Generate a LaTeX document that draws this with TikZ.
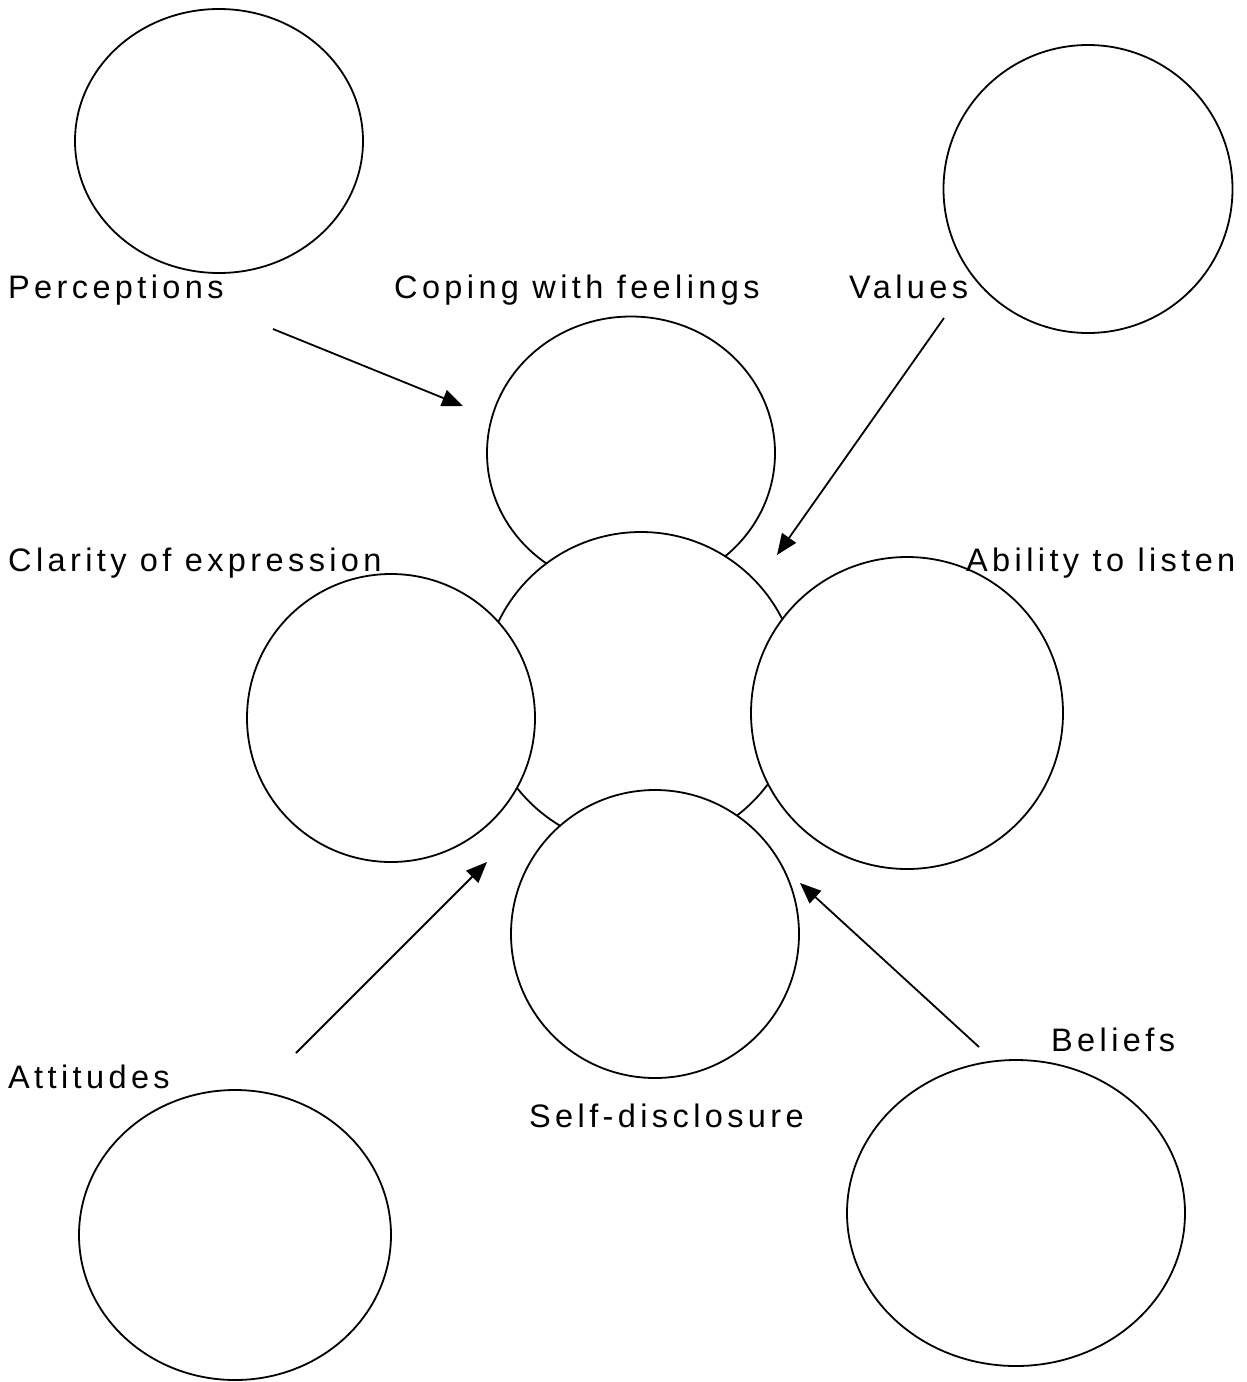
\documentclass[tikz,border=0pt]{standalone}
\usepackage{fontspec}
\setmainfont{Liberation Sans}[LetterSpace=13.5]
\usetikzlibrary{shapes.geometric,arrows.meta}
\tikzset{
  bubble/.style={draw, ellipse, line width=1.8pt, fill=white, inner sep=0pt, outer sep=0pt},
  lbl/.style={anchor=base west, inner sep=0pt, font=\fontsize{32.5}{38}\selectfont},
  link/.style={line width=1.8pt, -{Triangle[length=21pt,width=17pt]}}
}
\begin{document}
\begin{tikzpicture}[x=1pt,y=-1pt]
\useasboundingbox (0,0) rectangle (1247,1382);
% outer bubbles
\node[bubble, minimum width=288pt, minimum height=264pt] (perc) at (219,141) {};
\node[bubble, minimum width=289pt, minimum height=288pt] (vals) at (1088,189) {};
\node[bubble, minimum width=312pt, minimum height=290pt] (att) at (235,1235) {};
\node[bubble, minimum width=338pt, minimum height=306pt] (bel) at (1016,1213) {};
% central cluster, back to front
\node[bubble, minimum width=288pt, minimum height=273pt] (cope) at (631,453) {};
\node[bubble, minimum width=316pt, minimum height=316pt] (core) at (641,690) {};
\node[bubble, minimum width=288pt, minimum height=288pt] (clar) at (391,718) {};
\node[bubble, minimum width=312pt, minimum height=312pt] (abil) at (907,713) {};
\node[bubble, minimum width=288pt, minimum height=288pt] (self) at (655,934) {};
% labels
\node[lbl] (tperc) at (8,298) {Perceptions};
\node[lbl] (tcope) at (394,298) {Coping with feelings};
\node[lbl] (tvals) at (849,298) {Values};
\node[lbl] (tclar) at (8,571) {Clarity of expression};
\node[lbl] (tabil) at (966,571) {Ability to listen};
\node[lbl] (tatt) at (8,1088) {Attitudes};
\node[lbl] (tbel) at (1051,1051) {Beliefs};
\node[lbl] (tself) at (529,1127) {Self-disclosure};
% arrows
\coordinate (pa) at (273,329); \coordinate (pb) at (463,406);
\coordinate (va) at (944,318); \coordinate (vb) at (777,555);
\coordinate (aa) at (296,1053); \coordinate (ab) at (487,862);
\coordinate (ba) at (979,1047); \coordinate (bb) at (800,883);
\draw[link] (pa) -- (pb);
\draw[link] (va) -- (vb);
\draw[link] (aa) -- (ab);
\draw[link] (ba) -- (bb);
\end{tikzpicture}
\end{document}
